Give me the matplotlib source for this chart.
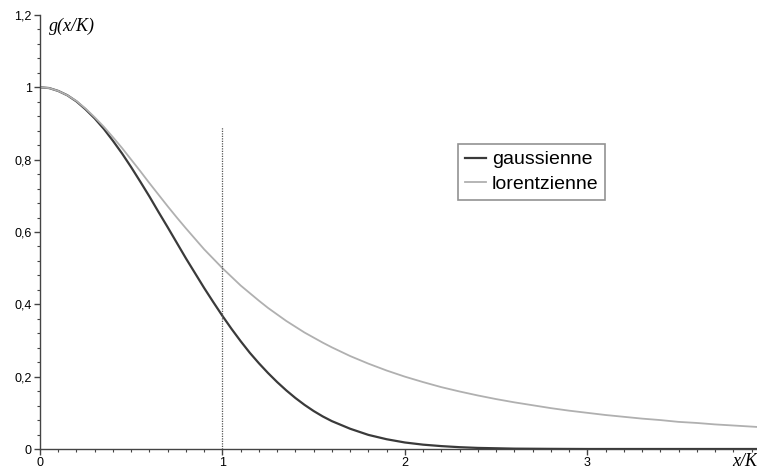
import numpy as np
import matplotlib.pyplot as plt
from matplotlib.ticker import MultipleLocator, FuncFormatter

# valeurs
x_gauss = [0, 0.05, 0.1, 0.15, 0.2, 0.25, 0.3, 0.35, 0.4, 0.45, 0.5, 0.55, 0.6,
           0.65, 0.7, 0.75, 0.8, 0.85, 0.9, 0.95, 1.0, 1.05, 1.1, 1.15, 1.2,
           1.25, 1.3, 1.35, 1.4, 1.45, 1.5, 1.55, 1.6, 1.7, 1.8, 1.9, 2.0, 2.1,
           2.2, 2.3, 2.4, 2.5, 2.6, 2.8, 3.0, 3.93]
y_gauss = [1.000, 0.998, 0.990, 0.978, 0.961, 0.939, 0.914, 0.885, 0.852, 0.817,
           0.779, 0.739, 0.698, 0.655, 0.613, 0.570, 0.527, 0.486, 0.445, 0.406,
           0.368, 0.332, 0.298, 0.266, 0.237, 0.210, 0.185, 0.162, 0.141, 0.122,
           0.105, 0.090, 0.077, 0.056, 0.039, 0.027, 0.018, 0.012, 0.008, 0.005,
           0.003, 0.002, 0.001, 0.0004, 0.0, 0.0]

x_lor = [0, 0.05, 0.1, 0.15, 0.2, 0.25, 0.3, 0.35, 0.4, 0.45, 0.5, 0.55, 0.6,
         0.65, 0.7, 0.75, 0.8, 0.85, 0.9, 0.95, 1.0, 1.05, 1.1, 1.15, 1.2, 1.25,
         1.3, 1.35, 1.4, 1.45, 1.5, 1.55, 1.6, 1.7, 1.8, 1.9, 2.0, 2.1, 2.2, 2.3,
         2.4, 2.5, 2.6, 2.7, 2.8, 2.9, 3.0, 3.1, 3.2, 3.3, 3.4, 3.5, 3.6, 3.7,
         3.8, 3.93]
y_lor = [1.000, 0.998, 0.990, 0.978, 0.962, 0.941, 0.917, 0.891, 0.862, 0.832,
         0.800, 0.768, 0.735, 0.703, 0.671, 0.640, 0.610, 0.581, 0.552, 0.526,
         0.500, 0.476, 0.452, 0.431, 0.410, 0.390, 0.372, 0.354, 0.338, 0.322,
         0.308, 0.294, 0.281, 0.257, 0.236, 0.217, 0.200, 0.185, 0.171, 0.159,
         0.148, 0.138, 0.129, 0.121, 0.113, 0.106, 0.100, 0.094, 0.089, 0.084,
         0.080, 0.075, 0.072, 0.068, 0.065, 0.061]

labels = ['gaussienne', 'lorentzienne']
x_mark = 1.0
y_mark_top = 0.89

plt.rcParams['font.family'] = ['Liberation Sans', 'DejaVu Sans']

fig = plt.figure(figsize=(7.57, 4.74), dpi=100)
ax = fig.add_axes([40 / 757, 25 / 474, 717 / 757, 434 / 474])

ax.plot(x_gauss, y_gauss, color='#3a3a3a', lw=1.6, label=labels[0])
ax.plot(x_lor, y_lor, color='#b0b0b0', lw=1.3, label=labels[1])
ax.plot([x_mark, x_mark], [0, y_mark_top], color='#555555', lw=0.9,
        linestyle=(0, (1, 1)))

ax.set_xlim(0, 3.93)
ax.set_ylim(0, 1.2)

for s in ['top', 'right']:
    ax.spines[s].set_visible(False)
for s in ['left', 'bottom']:
    ax.spines[s].set_color('#444444')
    ax.spines[s].set_linewidth(1.0)

ax.xaxis.set_major_locator(MultipleLocator(1))
ax.xaxis.set_minor_locator(MultipleLocator(0.1))
ax.yaxis.set_major_locator(MultipleLocator(0.2))
ax.yaxis.set_minor_locator(MultipleLocator(0.04))

fmt = FuncFormatter(lambda v, p: ('%g' % round(v, 2)).replace('.', ','))
ax.xaxis.set_major_formatter(fmt)
ax.yaxis.set_major_formatter(fmt)

ax.tick_params(which='major', length=4, width=1, color='#444444',
               labelsize=9, pad=2)
ax.tick_params(which='minor', length=2.5, width=0.8, color='#444444')

ax.text(0.05, 1.17, 'g(x/K)', family='Liberation Serif', style='italic',
        fontsize=13, ha='left', va='center')
fig.text(1.0, 12 / 474, 'x/K', family='Liberation Serif', style='italic',
         fontsize=13, ha='right', va='center')

leg = ax.legend(loc='upper left', bbox_to_anchor=(418 / 717, 1 - 129 / 434),
                fontsize=14, frameon=True, fancybox=False, handlelength=1.1,
                handletextpad=0.3, borderpad=0.35, labelspacing=0.35,
                borderaxespad=0)
leg.get_frame().set_edgecolor('#777777')
leg.get_frame().set_linewidth(1.2)

fig.savefig('out.png', dpi=100)
